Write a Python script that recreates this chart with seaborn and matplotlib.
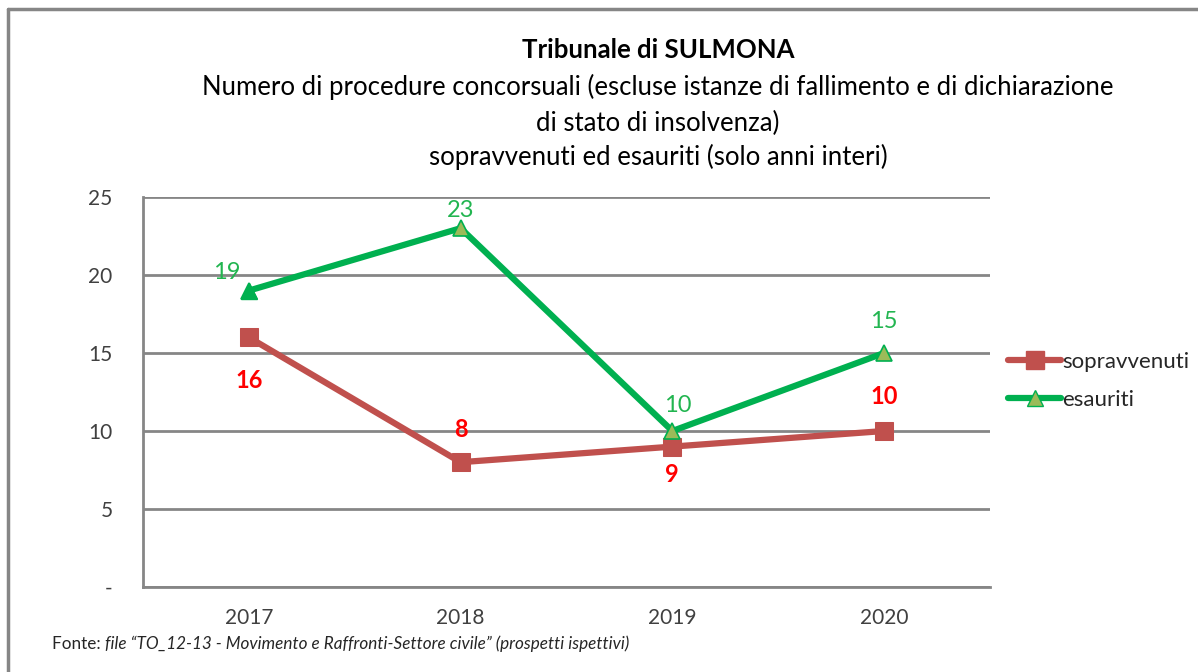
import pandas as pd
import numpy as np
import matplotlib
matplotlib.use("Agg")
import matplotlib.pyplot as plt
from matplotlib.lines import Line2D
import seaborn as sns

# data
anni = ["2017", "2018", "2019", "2020"]
sopravvenuti = [16, 8, 9, 10]
esauriti = [19, 23, 10, 15]

df = pd.DataFrame({
    "anno": anni * 2,
    "valore": sopravvenuti + esauriti,
    "serie": ["sopravvenuti"] * 4 + ["esauriti"] * 4,
})

sns.set_style("white")
plt.rcParams["font.family"] = ["Lato", "DejaVu Sans"]

ROSSO = "#C0504D"
VERDE = "#00B050"
OLIVA = "#9BBB59"
GRIGIO = "#868686"

fig = plt.figure(figsize=(11.98, 6.72), dpi=100)
ax = fig.add_axes([143 / 1198, 1 - 587 / 672, (990 - 143) / 1198, (587 - 197) / 672])

x = np.arange(len(anni))
df["pos"] = df["anno"].map({a: i for i, a in enumerate(anni)})

sns.lineplot(data=df, x="pos", y="valore", hue="serie", style="serie",
             palette={"sopravvenuti": ROSSO, "esauriti": VERDE},
             markers={"sopravvenuti": "s", "esauriti": "^"}, dashes=False,
             linewidth=4.5, markersize=13, legend=False, ax=ax, zorder=3)

for line in ax.get_lines():
    if matplotlib.colors.to_hex(line.get_color()).upper() == VERDE:
        line.set_markerfacecolor(OLIVA)
        line.set_markeredgecolor(VERDE)
        line.set_markeredgewidth(1.2)
        line.set_markersize(12)
    else:
        line.set_markerfacecolor(ROSSO)
        line.set_markeredgecolor(ROSSO)
# first esauriti marker is solid green
ax.plot(x[0], esauriti[0], marker="^", ms=12, mfc=VERDE, mec=VERDE, ls="none", zorder=4)

ax.set_xlim(-0.5, 3.5)
ax.set_ylim(0, 25)
ax.set_yticks([0, 5, 10, 15, 20, 25])
ax.set_yticklabels(["-", "5", "10", "15", "20", "25"])
ax.set_xticks(x)
ax.set_xticklabels(anni)
ax.set_xticks(np.arange(-0.5, 4, 1), minor=True)
ax.tick_params(axis="x", which="major", length=0, pad=15, labelsize=15, labelcolor="#404040")
ax.tick_params(axis="x", which="minor", length=7, width=2, color=GRIGIO, direction="out")
ax.tick_params(axis="y", length=7, width=2, color=GRIGIO, direction="out", pad=15,
               labelsize=15, labelcolor="#404040")
ax.set_xlabel("")
ax.set_ylabel("")
ax.grid(axis="y", color=GRIGIO, linewidth=2)
ax.set_axisbelow(True)
for s in ["top", "right"]:
    ax.spines[s].set_visible(False)
for s in ["left", "bottom"]:
    ax.spines[s].set_color(GRIGIO)
    ax.spines[s].set_linewidth(2)

# data labels
off_esa = [(-22, 18), (0, 18), (5, 26), (0, 31)]
for i, v in enumerate(esauriti):
    ax.annotate(str(v), (x[i], v), xytext=off_esa[i], textcoords="offset pixels",
                ha="center", va="center", color="#22B550", fontsize=17)
off_sop = [(0, -43), (0, 33), (0, -28), (0, 34)]
for i, v in enumerate(sopravvenuti):
    ax.annotate(str(v), (x[i], v), xytext=off_sop[i], textcoords="offset pixels",
                ha="center", va="center", color="#FF0000", fontsize=17, fontweight="bold")

# title
cx = 658 / 1198
fig.text(cx, 1 - 50 / 672, "Tribunale di SULMONA", ha="center", va="center",
         fontsize=18.5, fontweight="bold", color="black")
fig.text(cx, 1 - 87 / 672,
         "Numero di procedure concorsuali (escluse istanze di fallimento e di dichiarazione",
         ha="center", va="center", fontsize=18.5, color="black")
fig.text(cx, 1 - 123 / 672, "di stato di insolvenza)", ha="center", va="center",
         fontsize=18.5, color="black")
fig.text(cx, 1 - 157 / 672, "sopravvenuti ed esauriti (solo anni interi)", ha="center",
         va="center", fontsize=18.5, color="black")

# legend
handles = [
    Line2D([], [], color=ROSSO, lw=4.5, marker="s", ms=13, mfc=ROSSO, mec=ROSSO),
    Line2D([], [], color=VERDE, lw=4.5, marker="^", ms=12, mfc=OLIVA, mec=VERDE),
]
fig.legend(handles, ["sopravvenuti", "esauriti"], loc="center left",
           bbox_to_anchor=(997 / 1198, 1 - 381 / 672), frameon=False, fontsize=16,
           handlelength=2.4, handletextpad=0.05, labelspacing=0.8, borderpad=0)

# source note
t1 = fig.text(52 / 1198, 1 - 644 / 672, "Fonte: ", ha="left", va="center", fontsize=12.3)
fig.canvas.draw()
bb = t1.get_window_extent()
fig.text(bb.x1 / fig.bbox.width, 1 - 644 / 672,
         "file \u201cTO_12-13 - Movimento e Raffronti-Settore civile\u201d (prospetti ispettivi)",
         ha="left", va="center", fontsize=12.3, style="italic")

# frame
fig.add_artist(Line2D([8 / 1198, 1], [1 - 9 / 672, 1 - 9 / 672], color=GRIGIO, lw=2.5))
fig.add_artist(Line2D([8 / 1198, 8 / 1198], [0, 1 - 9 / 672], color=GRIGIO, lw=2.5))

fig.savefig("out.png", dpi=100)
